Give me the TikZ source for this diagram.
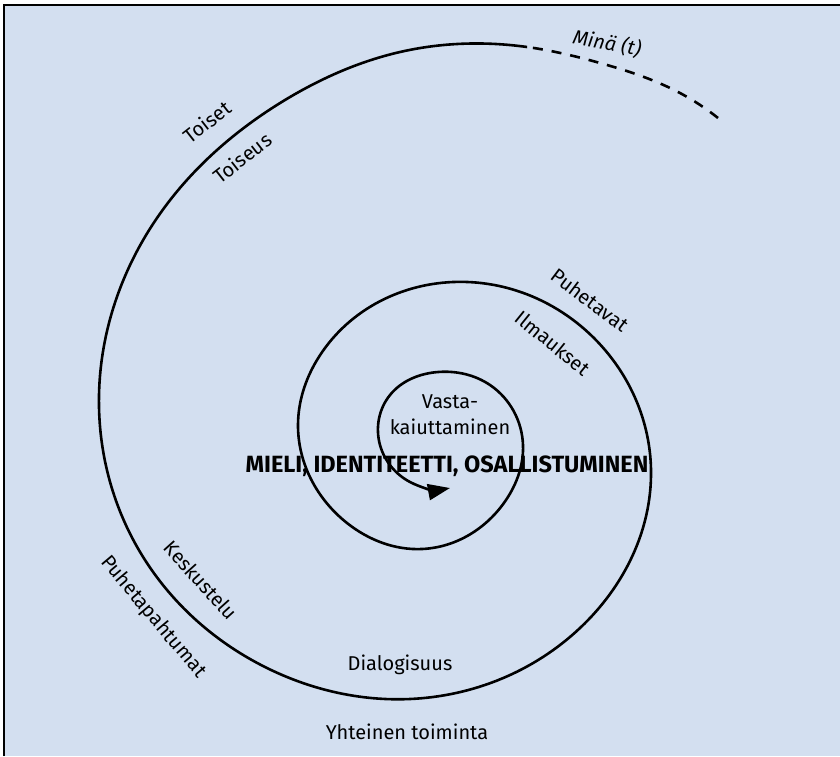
\documentclass[tikz,border=0pt]{standalone}
\usepackage{fontspec}
\setmainfont{Fira Sans}
\usetikzlibrary{arrows.meta,hobby}
\definecolor{bgblue}{RGB}{211,223,240}
\begin{document}
\begin{tikzpicture}[x=1pt,y=-1pt,
  spiralline/.style={line width=2.6pt, black},
  lbl/.style={font=\fontsize{20}{26}\selectfont, inner sep=0pt, text=black},
  boldlbl/.style={font=\bfseries\fontsize{23.5}{26}\selectfont, inner sep=0pt, text=black},
]
\useasboundingbox (0,0) rectangle (840,756);
\fill[bgblue] (4,5) rectangle (840,756);
\draw[line width=2pt] (4,756) -- (4,5) -- (840,5);

% spiral: solid part
\begin{scope}
\clip (0,0) rectangle (527,756) (527,200) rectangle (840,756);
\draw[spiralline, -{Triangle[length=22pt,width=16pt]}, use Hobby shortcut]
 (718,118) .. (680,93) .. (600,63) .. (527,47) .. (400,52) .. (285,100) .. (157,218) .. (99,407)
 .. (145,560) .. (267,668) .. (410,699) .. (580,628) .. (651,470) .. (613,360) .. (453,282)
 .. (317,360) .. (298,425) .. (347,523) .. (422,549) .. (506,500) .. (523,445) .. (490,385)
 .. (438,372) .. (390,395) .. (380,445) .. (410,482) .. (450,488);
\end{scope}
% spiral: dashed part
\begin{scope}
\clip (527,0) rectangle (840,200);
\draw[spiralline, dash pattern=on 10pt off 9pt, use Hobby shortcut]
 (718,118) .. (680,93) .. (600,63) .. (527,47) .. (400,52) .. (285,100);
\end{scope}

% labels
\node[lbl, font=\itshape\fontsize{20}{24}\selectfont, rotate=-11] (mina) at (607,43) {Minä (t)};
\node[lbl, rotate=38] (toiset) at (207,122) {Toiset};
\node[lbl, rotate=38] (toiseus) at (242,158) {Toiseus};
\node[lbl, rotate=-37] (puhetavat) at (590,300) {Puhetavat};
\node[lbl, rotate=-39] (ilmaukset) at (553,343) {Ilmaukset};
\node[lbl, align=center] (vasta) at (450,415) {Vasta-\\kaiuttaminen};
\node[boldlbl] (mieli) at (447,466) {MIELI, IDENTITEETTI, OSALLISTUMINEN};
\node[lbl, rotate=-48] (keskustelu) at (201,580) {Keskustelu};
\node[lbl, rotate=-50] (puhetap) at (153,617) {Puhetapahtumat};
\node[lbl] (dialog) at (400,665) {Dialogisuus};
\node[lbl] (yhteinen) at (407,732) {Yhteinen toiminta};
\end{tikzpicture}
\end{document}
